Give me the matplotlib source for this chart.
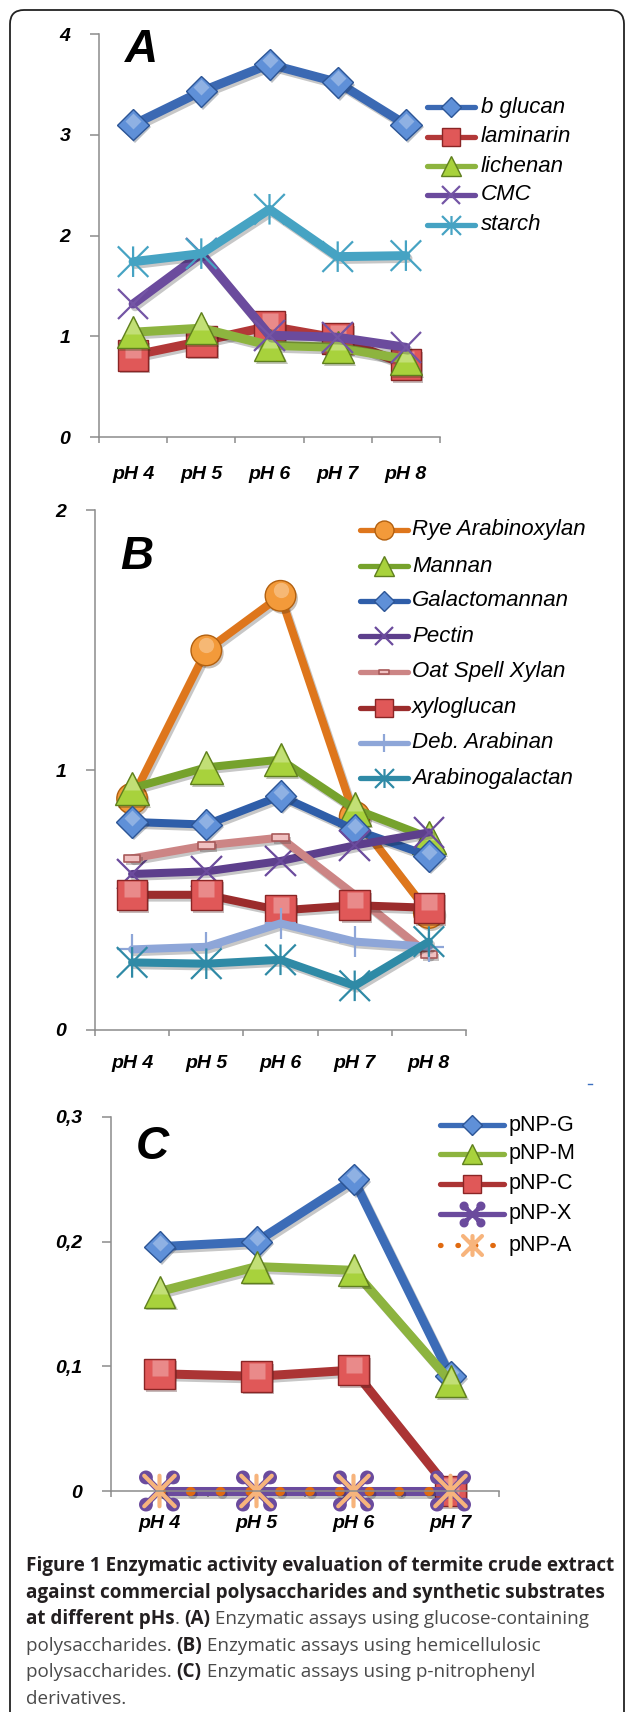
import matplotlib
matplotlib.use('Agg')
import matplotlib.pyplot as plt
import numpy as np
from matplotlib.path import Path
from matplotlib.lines import Line2D
from matplotlib.markers import MarkerStyle
from matplotlib.patches import FancyBboxPatch
from matplotlib.transforms import IdentityTransform, offset_copy
import matplotlib.patheffects as pe

# ---------------- data ----------------
ph_ab = ['pH 4', 'pH 5', 'pH 6', 'pH 7', 'pH 8']
ph_c = ['pH 4', 'pH 5', 'pH 6', 'pH 7']

# Panel A (glucose-containing polysaccharides)
b_glucan = [3.10, 3.43, 3.70, 3.52, 3.10]
laminarin = [0.81, 0.95, 1.10, 0.98, 0.72]
lichenan = [1.04, 1.08, 0.91, 0.89, 0.77]
cmc = [1.32, 1.82, 1.01, 0.99, 0.89]
starch = [1.74, 1.82, 2.26, 1.79, 1.80]
yticks_a = [0, 1, 2, 3, 4]
ylabels_a = ['0', '1', '2', '3', '4']

# Panel B (hemicellulosic polysaccharides)
rye_arabinoxylan = [0.89, 1.46, 1.67, 0.82, 0.45]
mannan = [0.93, 1.01, 1.04, 0.85, 0.74]
galactomannan = [0.80, 0.79, 0.90, 0.77, 0.67]
pectin = [0.60, 0.61, 0.65, 0.71, 0.76]
oat_spell_xylan = [0.66, 0.71, 0.74, 0.52, 0.29]
xyloglucan = [0.52, 0.52, 0.46, 0.48, 0.47]
deb_arabinan = [0.31, 0.32, 0.41, 0.34, 0.32]
arabinogalactan = [0.26, 0.255, 0.27, 0.17, 0.34]
yticks_b = [0, 1, 2]
ylabels_b = ['0', '1', '2']

# Panel C (p-nitrophenyl derivatives)
pnp_g = [0.196, 0.200, 0.250, 0.092]
pnp_m = [0.160, 0.180, 0.177, 0.088]
pnp_c = [0.094, 0.092, 0.097, 0.0]
pnp_x = [0.0, 0.0, 0.0, 0.0]
pnp_a = [0.0, 0.0, 0.0, 0.0]
yticks_c = [0, 0.1, 0.2, 0.3]
ylabels_c = ['0', '0,1', '0,2', '0,3']

# ---------------- setup ----------------
W, H = 627, 1712
DPI = 100
fig = plt.figure(figsize=(W / DPI, H / DPI), dpi=DPI)
fig.patch.set_facecolor('white')

SANS = ['Liberation Sans', 'DejaVu Sans']
CAP = ['Open Sans', 'DejaVu Sans']
AX_COL = '#8c8c8c'

# custom markers
ASTER = Path([(-0.5, -0.5), (0.5, 0.5), (-0.5, 0.5), (0.5, -0.5), (0, -0.5), (0, 0.5)],
             [Path.MOVETO, Path.LINETO] * 3)
DASH = Path([(-1, -0.45), (1, -0.45), (1, 0.45), (-1, 0.45), (-1, -0.45)],
            [Path.MOVETO, Path.LINETO, Path.LINETO, Path.LINETO, Path.CLOSEPOLY])
_xlines = Path([(-0.5, -0.5), (0.5, 0.5), (-0.5, 0.5), (0.5, -0.5)],
               [Path.MOVETO, Path.LINETO] * 2)
_dots = [Path.circle((sx * 0.5, sy * 0.5), 0.14) for sx in (-1, 1) for sy in (-1, 1)]
XDOT = Path.make_compound_path(_xlines, *_dots)

LINE_FX = [pe.SimpleLineShadow(offset=(1.5, -2), alpha=0.22), pe.Normal()]
MARK_FX = [pe.SimplePatchShadow(offset=(1.5, -2), alpha=0.3), pe.Normal()]
FILLED = ('D', 's', '^', 'o')


def px_axes(l, r, t, b):
    return fig.add_axes([l / W, 1 - b / H, (r - l) / W, (b - t) / H])


def style_axes(ax, ncat, cats, ylim, yticks, ylabels, xpad):
    ax.set_xlim(-0.5, ncat - 0.5)
    ax.set_ylim(*ylim)
    ax.patch.set_alpha(0)
    for s in ['top', 'right']:
        ax.spines[s].set_visible(False)
    for s in ['left', 'bottom']:
        ax.spines[s].set_color(AX_COL)
        ax.spines[s].set_linewidth(1.1)
    ax.set_yticks(yticks)
    ax.set_yticklabels(ylabels, fontfamily=SANS, fontweight='bold',
                       fontstyle='italic', fontsize=14)
    ax.tick_params(axis='y', length=6.5, width=1.1, color=AX_COL, pad=14)
    ax.set_xticks(range(ncat))
    ax.set_xticklabels(cats, fontfamily=SANS, fontweight='bold',
                       fontstyle='italic', fontsize=14)
    ax.tick_params(axis='x', which='major', length=0, pad=xpad)
    ax.set_xticks(np.arange(-0.5, ncat), minor=True)
    ax.tick_params(axis='x', which='minor', length=4.5, width=1.1, color=AX_COL)


def mk(s):
    return MarkerStyle(s['marker'], capstyle='round') if s.get('round') else s['marker']


def draw_series(ax, x, s, lw):
    ax.plot(x, s['y'], color=s['lc'], lw=lw, ls=s.get('ls', '-'),
            solid_capstyle='round', dash_capstyle='round',
            clip_on=False, path_effects=LINE_FX, zorder=2)
    ax.plot(x, s['y'], linestyle='none', marker=mk(s), ms=s['ms'],
            mfc=s['mfc'], mec=s['mec'], mew=s.get('mew', 1.0),
            clip_on=False, path_effects=MARK_FX, zorder=2)
    if isinstance(s['marker'], str) and s['marker'] in FILLED:
        # glossy highlight on the upper part of the marker
        tr = offset_copy(ax.transData, fig=fig, x=0, y=s['ms'] * 0.18, units='points')
        ax.plot(x, s['y'], linestyle='none', marker=s['marker'], ms=s['ms'] * 0.5,
                mfc='white', mec='none', alpha=0.3, transform=tr, clip_on=False, zorder=2)


def draw_legend(specs, x0, x1, xt, ys, fontsize, style, lw, mscale):
    xm = (x0 + x1) / 2
    for s, y in zip(specs, ys):
        fy = 1 - y / H
        fig.add_artist(Line2D([x0 / W, x1 / W], [fy, fy], transform=fig.transFigure,
                              color=s['lc'], lw=lw, ls=s.get('ls', '-'),
                              solid_capstyle='round', dash_capstyle='round'))
        fig.add_artist(Line2D([xm / W], [fy], transform=fig.transFigure, linestyle='none',
                              marker=mk(s), ms=s['ms'] * mscale, mfc=s['mfc'],
                              mec=s['mec'], mew=s.get('mew', 1.0) * s.get('lmew', 1.0)))
        fig.text(xt / W, fy, s['label'], va='center', ha='left', fontsize=fontsize,
                 fontfamily=SANS, fontstyle=style, color='black')


# ---------------- frame ----------------
frame = FancyBboxPatch((10, -60), 614, H - 10 + 60,
                       boxstyle='round,pad=0,rounding_size=14',
                       transform=IdentityTransform(), fill=False,
                       ec='#222222', lw=1.3)
fig.patches.append(frame)

# ---------------- Panel A ----------------
axA = px_axes(99, 440, 34, 437)
style_axes(axA, 5, ph_ab, (0, 4), yticks_a, ylabels_a, xpad=21)
xa = np.arange(len(ph_ab))
specs_a = [
    dict(label='b glucan', y=b_glucan, lc='#3b69b3', marker='D', mfc='#5f90d8', mec='#2c5596', ms=16),
    dict(label='laminarin', y=laminarin, lc='#b23838', marker='s', mfc='#e05858', mec='#8a2525', ms=22),
    dict(label='lichenan', y=lichenan, lc='#8db43f', marker='^', mfc='#a8d23c', mec='#5f7f1e', ms=23),
    dict(label='CMC', y=cmc, lc='#6b4b9d', marker='x', mfc='none', mec='#7455a5', ms=22, mew=1.6),
    dict(label='starch', y=starch, lc='#46a3c3', marker=ASTER, mfc='none', mec='#46a3c3', ms=22, mew=1.6),
]
for s in specs_a:
    draw_series(axA, xa, s, lw=6.5)
draw_legend(specs_a, 427, 475, 481, [107, 137, 166, 195, 225], 16, 'italic', 3.8, 0.62)
fig.text(141 / W, 1 - 50 / H, 'A', ha='center', va='center', fontsize=33,
         fontweight='bold', fontstyle='italic', fontfamily=SANS)

# ---------------- Panel B ----------------
axB = px_axes(95, 466, 510, 1030)
style_axes(axB, 5, ph_ab, (0, 2), yticks_b, ylabels_b, xpad=18)
xb = np.arange(len(ph_ab))
specs_b = [
    dict(label='Rye Arabinoxylan', y=rye_arabinoxylan, lc='#de761c', marker='o', mfc='#f39a3a', mec='#b2600f', ms=22),
    dict(label='Mannan', y=mannan, lc='#76a22c', marker='^', mfc='#a8d23c', mec='#5f7f1e', ms=24),
    dict(label='Galactomannan', y=galactomannan, lc='#2f5ea9', marker='D', mfc='#5f90d8', mec='#2c5596', ms=16),
    dict(label='Pectin', y=pectin, lc='#5d3f8c', marker='x', mfc='none', mec='#6b4b9d', ms=22, mew=1.6),
    dict(label='Oat Spell Xylan', y=oat_spell_xylan, lc='#cc8585', marker=DASH, mfc='#f0c0c0', mec='#a85a5a', ms=12, mew=1.2),
    dict(label='xyloglucan', y=xyloglucan, lc='#9b2c2c', marker='s', mfc='#e05858', mec='#8a2525', ms=22),
    dict(label='Deb. Arabinan', y=deb_arabinan, lc='#8ea6d8', marker='+', mfc='none', mec='#8ea6d8', ms=22, mew=1.6),
    dict(label='Arabinogalactan', y=arabinogalactan, lc='#2f8aa6', marker=ASTER, mfc='none', mec='#2f8aa6', ms=22, mew=1.6),
]
for s in specs_b:
    draw_series(axB, xb, s, lw=5.8)
draw_legend(specs_b, 360, 408, 412, [530, 566, 601, 636, 672, 708, 743, 778], 16, 'italic', 3.8, 0.62)
fig.text(137 / W, 1 - 557 / H, 'B', ha='center', va='center', fontsize=33,
         fontweight='bold', fontstyle='italic', fontfamily=SANS)

# ---------------- Panel C ----------------
axC = px_axes(111, 499, 1117, 1491)
style_axes(axC, 4, ph_c, (0, 0.3), yticks_c, ylabels_c, xpad=17)
xc = np.arange(len(ph_c))
specs_c = [
    dict(label='pNP-G', y=pnp_g, lc='#3c6cb7', marker='D', mfc='#5f90d8', mec='#2c5596', ms=16),
    dict(label='pNP-M', y=pnp_m, lc='#8db43f', marker='^', mfc='#a8d23c', mec='#5f7f1e', ms=23),
    dict(label='pNP-C', y=pnp_c, lc='#ab3434', marker='s', mfc='#e05858', mec='#8a2525', ms=22),
    dict(label='pNP-X', y=pnp_x, lc='#6b4b9d', marker=XDOT, mfc='#7a58ad', mec='#6b4b9d', ms=25,
         mew=4.5, lmew=0.7, round=True),
    dict(label='pNP-A', y=pnp_a, lc='#e06a10', ls=(0, (0.1, 3.2)), marker=ASTER, mfc='none',
         mec='#f7b47c', ms=22, mew=3.0, round=True),
]
for s in specs_c:
    draw_series(axC, xc, s, lw=6.5)
draw_legend(specs_c, 440, 504, 509, [1125, 1154, 1184, 1214, 1245], 15.5, 'normal', 3.8, 0.62)
fig.text(152 / W, 1 - 1147 / H, 'C', ha='center', va='center', fontsize=33,
         fontweight='bold', fontstyle='italic', fontfamily=SANS)

# small blue mark near panel C
fig.add_artist(Line2D([588 / W, 592 / W], [1 - 1084 / H] * 2, transform=fig.transFigure,
                      color='#3b6fc0', lw=1))

# ---------------- caption ----------------
caption = [
    [("Figure 1 Enzymatic activity evaluation of termite crude extract", 'b')],
    [("against commercial polysaccharides and synthetic substrates", 'b')],
    [("at different pHs", 'b'), (". ", 'r'), ("(A)", 'b'), (" Enzymatic assays using glucose-containing", 'r')],
    [("polysaccharides. ", 'r'), ("(B)", 'b'), (" Enzymatic assays using hemicellulosic", 'r')],
    [("polysaccharides. ", 'r'), ("(C)", 'b'), (" Enzymatic assays using p-nitrophenyl", 'r')],
    [("derivatives.", 'r')],
]
renderer = fig.canvas.get_renderer()
probe = fig.text(0, 0, caption[0][0][0], fontsize=12, fontweight='bold', fontfamily=CAP)
wprobe = probe.get_window_extent(renderer).width
probe.remove()
cap_size = 12 * 590 / wprobe

x_start = 26
base0 = 1571
for i, line in enumerate(caption):
    x = x_start
    yb = 1 - (base0 + i * 26.6) / H
    for txt, kind in line:
        t = fig.text(x / W, yb, txt, fontsize=cap_size, fontfamily=CAP,
                     fontweight='bold' if kind == 'b' else 'normal',
                     color='#231f20' if kind == 'b' else '#4a4a4a',
                     va='baseline', ha='left')
        x += t.get_window_extent(renderer).width

fig.savefig('out.png', dpi=DPI, facecolor='white')
